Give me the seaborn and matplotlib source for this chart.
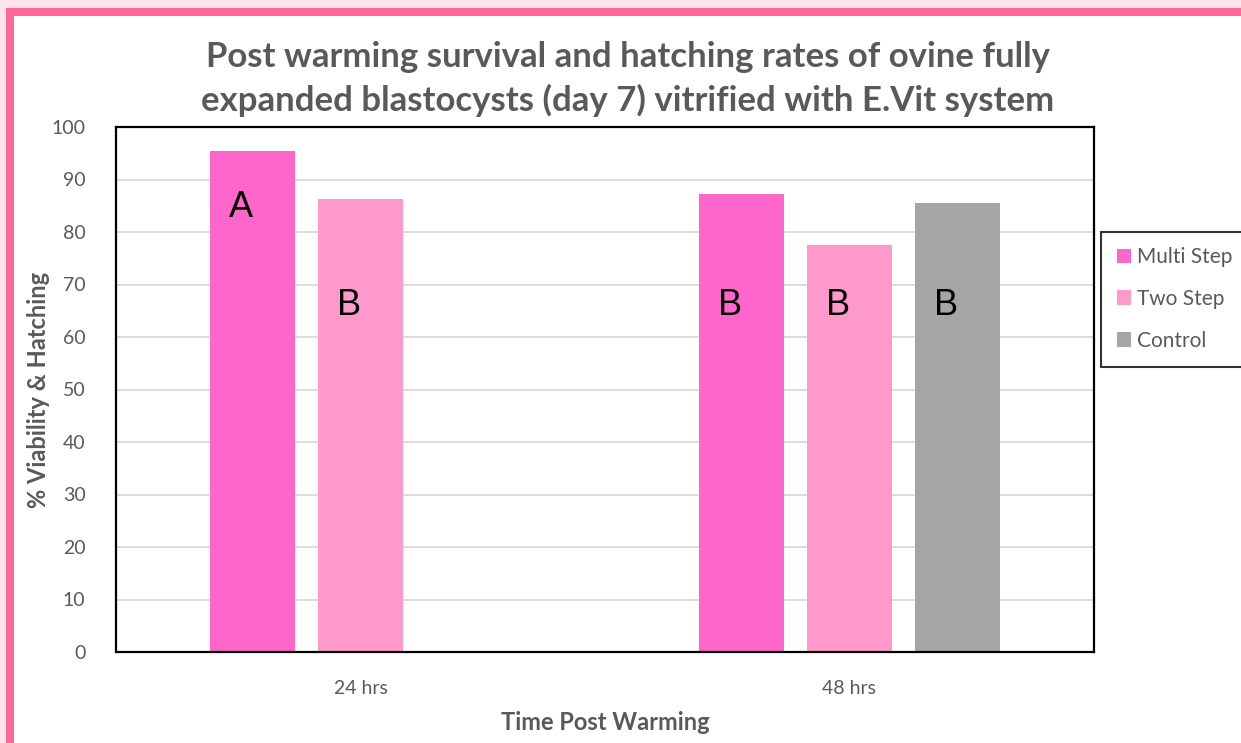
import numpy as np
import pandas as pd
import matplotlib.pyplot as plt
import seaborn as sns
from matplotlib.patches import Rectangle

# Data
times = ['24 hrs', '48 hrs']
methods = ['Multi Step', 'Two Step', 'Control']
multi_step = [95.4, 87.2]
two_step = [86.3, 77.5]
control = [np.nan, 85.5]
letters_multi = ['A', 'B']
letters_two = ['B', 'B']
letters_control = [None, 'B']

colors = ['#ff66cc', '#ff99cc', '#a5a5a5']
gray_text = '#595959'

df = pd.DataFrame({
    'time': times * 3,
    'method': np.repeat(methods, 2),
    'value': multi_step + two_step + control,
})

sns.set_style('white')
plt.rcParams['font.family'] = ['Lato', 'DejaVu Sans']

fig = plt.figure(figsize=(12.41, 7.43), dpi=100)
fig.patch.set_facecolor('#fde3ea')
# slide frame: white panel with pink border on top and left
fig.patches.append(Rectangle((14 / 1241, 0), 1, 1 - 16 / 743, transform=fig.transFigure,
                             facecolor='white', edgecolor='none', zorder=-3))
fig.patches.append(Rectangle((6 / 1241, 0), 8 / 1241, 1 - 8 / 743, transform=fig.transFigure,
                             facecolor='#ff6699', edgecolor='none', zorder=-2))
fig.patches.append(Rectangle((6 / 1241, 1 - 16 / 743), 1, 8 / 743, transform=fig.transFigure,
                             facecolor='#ff6699', edgecolor='none', zorder=-2))

ax = fig.add_axes([116 / 1241, 1 - 652 / 743, (1094 - 116) / 1241, (652 - 127) / 743])
sns.barplot(data=df, x='time', y='value', hue='method', palette=colors,
            width=0.663, gap=0.21, ax=ax, edgecolor='none', saturation=1)

ax.set_ylim(0, 100)
ax.set_yticks(range(0, 101, 10))
ax.yaxis.grid(True, color='#d9d9d9', linewidth=1.3)
ax.set_axisbelow(True)
for s in ax.spines.values():
    s.set_visible(True)
    s.set_color('black')
    s.set_linewidth(1.6)
ax.tick_params(axis='both', length=0, labelsize=14, labelcolor=gray_text)
ax.tick_params(axis='x', pad=20)
ax.tick_params(axis='y', pad=22)

ax.set_xlabel('Time Post Warming', fontsize=17, fontweight='bold', color=gray_text, labelpad=10)
ax.set_ylabel('% Viability & Hatching', fontsize=17, fontweight='bold', color=gray_text, labelpad=1)

# significance letters
all_letters = [letters_multi, letters_two, letters_control]
for m, cont in enumerate(ax.containers):
    for bar in cont:
        if np.isnan(bar.get_height()):
            continue
        i = int(round(bar.get_x() + bar.get_width() / 2))
        lab = all_letters[m][i]
        if lab is None:
            continue
        y = 84.6 if (m == 0 and i == 0) else 66.0
        ax.annotate(lab, (bar.get_x() + bar.get_width() / 2, y), xytext=(-8, 0),
                    textcoords='offset points', ha='center', va='center',
                    fontsize=26, color='black', family=['Liberation Sans', 'DejaVu Sans'])

leg = ax.legend(loc='center left', bbox_to_anchor=(1101 / 1241, 1 - 299 / 743),
                bbox_transform=fig.transFigure, frameon=True, fontsize=15,
                handlelength=0.7, handleheight=0.7, handletextpad=0.3,
                labelspacing=1.05, borderpad=0.75, borderaxespad=0,
                fancybox=False, title=None)
leg.get_frame().set_edgecolor('black')
leg.get_frame().set_linewidth(1.5)
for t in leg.get_texts():
    t.set_color(gray_text)

fig.text(628 / 1241, 1 - 79 / 743,
         'Post warming survival and hatching rates of ovine fully\nexpanded blastocysts (day 7) vitrified with E.Vit system',
         ha='center', va='center', fontsize=25, fontweight='bold', color=gray_text,
         linespacing=1.4)

fig.savefig('out.png', dpi=100, facecolor=fig.get_facecolor())
